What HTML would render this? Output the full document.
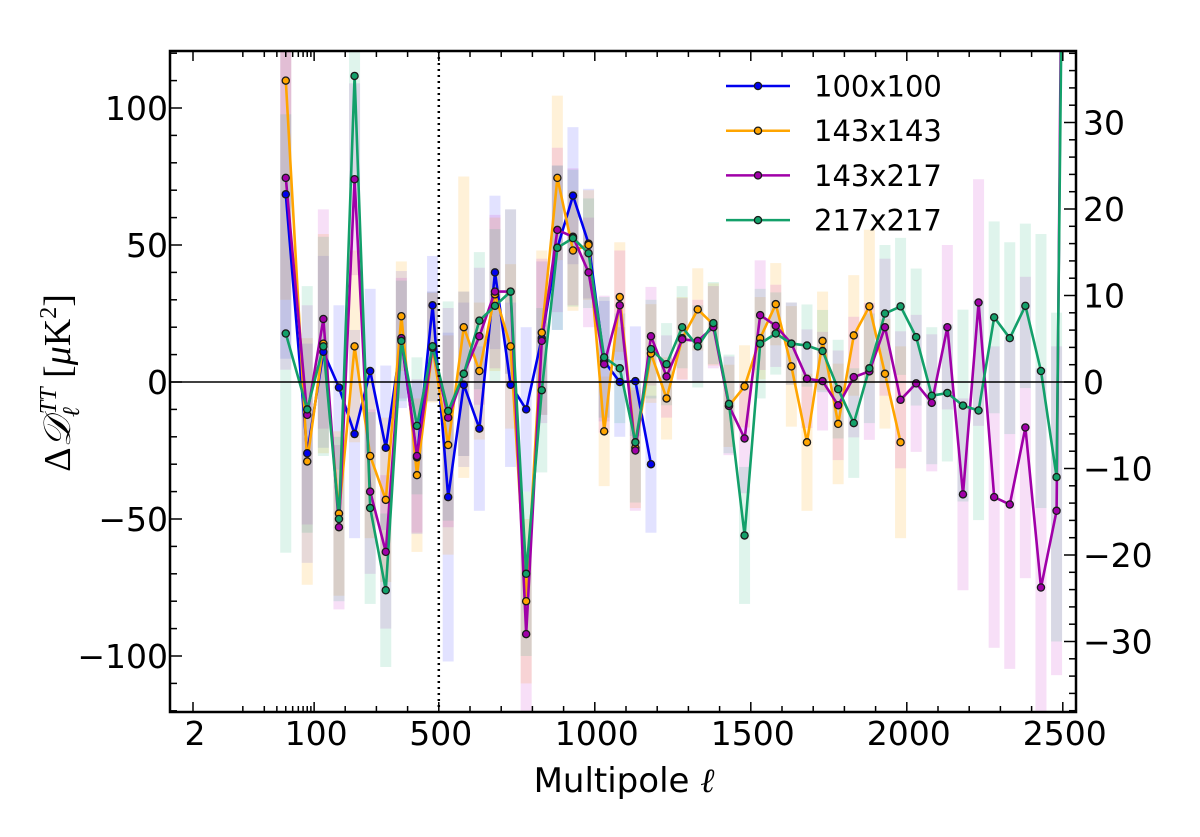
<!DOCTYPE html>
<html><head><meta charset="utf-8"><title>Delta D_ell TT residuals</title>
<style>
html,body{margin:0;padding:0;background:#fff;}
svg{display:block;font-family:"DejaVu Sans","Liberation Sans",sans-serif;}
</style></head>
<body>
<svg id="chart" width="1200" height="837" viewBox="0 0 1200 837" xmlns="http://www.w3.org/2000/svg">
<defs><clipPath id="plotclip"><rect x="170" y="51" width="906" height="661"/></clipPath></defs>
<g id="bars" clip-path="url(#plotclip)"></g>
<g id="lines" clip-path="url(#plotclip)"></g>
<g id="axes"></g>
<g id="legend"></g>
<text x="624" y="792" font-size="34" text-anchor="middle">Multipole <tspan font-family="Liberation Serif,serif" font-style="italic">ℓ</tspan></text>
<text transform="translate(70,383) rotate(-90)" font-size="38" text-anchor="middle" font-family="Liberation Serif,serif">Δ<tspan font-style="italic">𝒟</tspan><tspan font-size="24" font-style="italic" dy="9">ℓ</tspan><tspan font-size="24" font-style="italic" dy="-23" dx="-7">TT</tspan><tspan dy="14"> [</tspan><tspan font-style="italic">μ</tspan>K<tspan font-size="24" dy="-14">2</tspan><tspan dy="14">]</tspan></text>
</svg>
<script>
const ells = [40,80,130,180,230,280,330,380,430,480,530,580,630,680,730,780,830,880,930,980,1030,1080,1130,1180,1230,1280,1330,1380,1430,1480,1530,1580,1630,1680,1730,1780,1830,1880,1930,1980,2030,2080,2130,2180,2230,2280,2330,2380,2430,2480,2530];
const names = ["100x100","143x143","143x217","217x217"];
const blueVals = [68.5,-26,11,-2,-19,4,-24,15.5,-27.5,28,-42,-1,-17,40,-1,-10,16,49,68,50.5,7.6,0,0.3,-30];
const orangeVals = [110,-29,14,-48,13,-27,-43,24,-34,12.5,-23,20,4,32,13,-80,18,74.5,48,50,-18,31,-24,10.4,-6,16,26.5,21,-8.7,-1.6,16,28.4,5.7,-22,15,-15.3,17,27.6,3,-22];
const magentaVals = [74.5,-12,23,-53,74,-40,-62,16,-27,13,-13,3,16.7,33,33,-92,15,55.5,53,40,6.5,28,-25,16.7,2,15.6,15,20,-8.7,-20.6,24.4,20.5,14,1.2,0.3,-8.5,1.8,3.9,20,-6.5,-0.5,-7.6,20,-41,29,-42,-44.7,-16.6,-75,-47,600];
const greenVals = [17.7,-10,13,-50,111.7,-46,-76,15,-16,13,-10.6,3,22.4,27.8,33,-70,-3,49,52.5,47,9,5,-22,12,6.5,20,13,21.5,-8,-56,14,17.7,14,13.3,11.3,-2.6,-15,5,25,27.6,16.4,-5,-4,-8.6,-10.4,23.6,16,27.8,4,-34.7,500];
const blueErr = [60,40,35,30,38,30,30,25,28,18,60,30,30,28,30,30,28,30,25,20,22,20,20,25];
const orangeErr = [80,45,40,30,35,30,30,20,28,20,40,55,25,28,30,30,30,30,22,20,20,20,22,18,15,15,15,15,15,15,15,15,22,25,18,22,22,28,20,35];
const magentaErr = [70,40,40,30,35,30,28,22,28,20,40,30,25,28,30,30,30,30,25,20,25,20,22,18,15,15,15,15,18,20,20,15,15,18,18,20,22,25,25,25,25,25,30,35,45,55,60,55,80,60,0];
const greenErr = [80,45,40,30,40,35,28,22,25,20,40,30,25,28,30,30,30,30,25,20,22,20,22,18,15,15,15,15,18,25,20,15,15,15,15,18,20,20,25,25,25,25,25,35,40,35,35,30,50,60,0];
const yTicksLeft = [-100,-50,0,50,100];
const yTicksRight = [-30,-20,-10,0,10,20,30];
const xTickLabels = [2,100,500,1000,1500,2000,2500];

const NS="http://www.w3.org/2000/svg";
const L=170,R=1076,T=51,B=712;
function xs(l){ if(l<=100) return 193+(Math.log10(l)-Math.log10(2))*71.3; return 314+(l-100)*0.312; }
function ys(v){ return 382-v*2.74; }
function ysR(v){ return 382-v*8.65; }
function mk(tag,attrs,parent){const e=document.createElementNS(NS,tag);for(const k in attrs)e.setAttribute(k,attrs[k]);parent.appendChild(e);return e;}

const series=[
 {vals:blueVals,err:blueErr,color:"#0000ee",bar:"rgba(60,60,255,0.15)",key:"100x100"},
 {vals:orangeVals,err:orangeErr,color:"#ffa500",bar:"rgba(255,180,40,0.18)",key:"143x143"},
 {vals:magentaVals,err:magentaErr,color:"#a000a8",bar:"rgba(200,40,200,0.15)",key:"143x217"},
 {vals:greenVals,err:greenErr,color:"#13a06a",bar:"rgba(30,180,120,0.14)",key:"217x217"}];

const bars=document.getElementById('bars'), lines=document.getElementById('lines');
series.forEach(s=>{
  s.vals.forEach((v,i)=>{
    const e=s.err[i]; if(!e) return;
    const r=mk('rect',{x:xs(ells[i])-5.5,y:ys(v+e),width:11,height:ys(v-e)-ys(v+e),fill:s.bar},bars);
    
    
  });
});
series.forEach(s=>{
  const pts=s.vals.map((v,i)=>xs(ells[i]).toFixed(1)+','+ys(v).toFixed(1)).join(' ');
  const p=mk('polyline',{points:pts,fill:'none',stroke:s.color,'stroke-width':2.6,'stroke-linejoin':'round'},lines);
  
  
});
series.forEach(s=>{
  s.vals.forEach((v,i)=>{
    const c=mk('circle',{cx:xs(ells[i]),cy:ys(v),r:3.6,fill:s.color,stroke:'#1a1a1a','stroke-width':1.3},lines);
    
    
  });
});

const ax=document.getElementById('axes');
const z=mk('line',{x1:L,x2:R,y1:ys(0),y2:ys(0),stroke:'#000','stroke-width':1.5},ax);


const dl=mk('line',{x1:xs(500),x2:xs(500),y1:T,y2:B,stroke:'#000','stroke-width':2.5,'stroke-dasharray':'2,4'},ax);


const frame=mk('rect',{x:L,y:T,width:R-L,height:B-T,fill:'none',stroke:'#000','stroke-width':2.5},ax);


const xt=[];
for(let l=10;l<=90;l+=10) xt.push([l,6]);
for(let l=200;l<=2500;l+=100) xt.push([l,l%500===0?10:6]);
xt.push([2,10]); xt.push([100,10]);
xt.forEach(([l,len])=>{
  mk('line',{x1:xs(l),x2:xs(l),y1:B,y2:B-len,stroke:'#000','stroke-width':1.5},ax);
  mk('line',{x1:xs(l),x2:xs(l),y1:T,y2:T+len,stroke:'#000','stroke-width':1.5},ax);
});
xTickLabels.forEach(l=>{
  const t=mk('text',{x:xs(l)+2,y:745,'font-size':33,'text-anchor':'middle'},ax);
  t.textContent=l;
  
  
});
for(let v=-120;v<=120;v+=10){
  const len=v%50===0?12:7;
  mk('line',{x1:L,x2:L+len,y1:ys(v),y2:ys(v),stroke:'#000','stroke-width':1.5},ax);
}
yTicksLeft.forEach(v=>{
  const t=mk('text',{x:168,y:ys(v)+12,'font-size':33,'text-anchor':'end'},ax);
  t.textContent=v<0?'\u2212'+Math.abs(v):v;
  
  
});
for(let v=-38;v<=38;v+=2){
  const len=v%10===0?12:7;
  mk('line',{x1:R,x2:R-len,y1:ysR(v),y2:ysR(v),stroke:'#000','stroke-width':1.5},ax);
}
yTicksRight.forEach(v=>{
  const t=mk('text',{x:1083,y:ysR(v)+12,'font-size':33,'text-anchor':'start'},ax);
  t.textContent=v<0?'\u2212'+Math.abs(v):v;
  
  
});
const lg=document.getElementById('legend');
series.forEach((s,i)=>{
  const y=86+i*44.7;
  const g=mk('g',{},lg);
  
  
  mk('line',{x1:726,x2:790,y1:y,y2:y,stroke:s.color,'stroke-width':2.5},g);
  mk('circle',{cx:758,cy:y,r:3.6,fill:s.color,stroke:'#1a1a1a','stroke-width':1.3},g);
  const t=mk('text',{x:814,y:y+10.5,'font-size':29},g);
  t.textContent=names[i];
});
</script>
</body></html>
